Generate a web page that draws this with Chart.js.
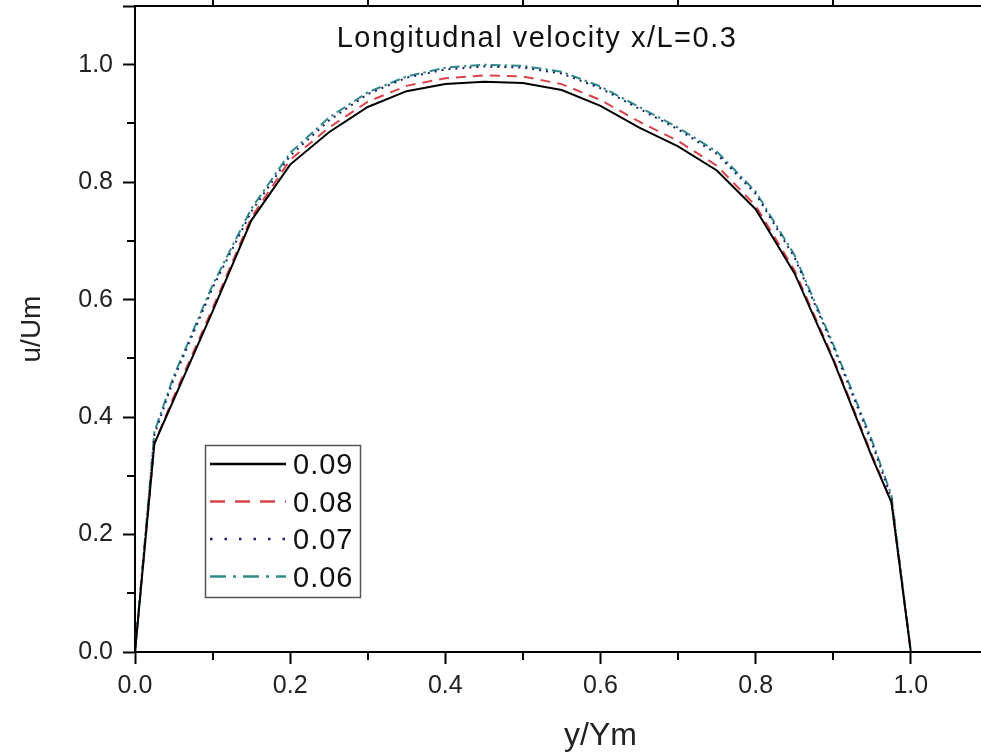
<!DOCTYPE html>
<html>
<head>
<meta charset="utf-8">
<script src="https://cdn.jsdelivr.net/npm/chart.js@4.4.0/dist/chart.umd.min.js"></script>
<style>
html,body{margin:0;padding:0;background:#fff;overflow:hidden;width:981px;height:755px}
canvas{display:block}
</style>
</head>
<body>
<canvas id="c" width="1086" height="755"></canvas>
<script>
// ---- data ----
const xValues = [0, 0.025, 0.05, 0.1, 0.15, 0.2, 0.25, 0.3, 0.35, 0.4, 0.45, 0.5, 0.55, 0.6, 0.65, 0.7, 0.75, 0.8, 0.85, 0.9, 0.95, 0.975, 1.0];
const u009 = [0, 0.355, 0.43, 0.58, 0.735, 0.83, 0.885, 0.928, 0.955, 0.967, 0.971, 0.969, 0.957, 0.93, 0.893, 0.861, 0.82, 0.754, 0.645, 0.497, 0.332, 0.255, 0];
const u008 = [0, 0.355, 0.435, 0.585, 0.74, 0.838, 0.893, 0.937, 0.964, 0.977, 0.982, 0.98, 0.967, 0.94, 0.903, 0.87, 0.828, 0.76, 0.65, 0.5, 0.335, 0.255, 0];
const u007 = [0, 0.37, 0.465, 0.62, 0.75, 0.845, 0.905, 0.95, 0.978, 0.992, 0.997, 0.995, 0.985, 0.96, 0.925, 0.89, 0.848, 0.78, 0.672, 0.52, 0.355, 0.262, 0];
const u006 = [0, 0.375, 0.47, 0.625, 0.755, 0.85, 0.91, 0.953, 0.98, 0.995, 1.0, 0.998, 0.988, 0.963, 0.928, 0.893, 0.852, 0.784, 0.676, 0.524, 0.36, 0.267, 0];
const seriesLabels = ['0.09', '0.08', '0.07', '0.06'];
const chartTitle = 'Longitudnal velocity x/L=0.3';
const xTitle = 'y/Ym';
const yTitle = 'u/Um';
const xMinorTicks = [0.1, 0.3, 0.5, 0.7, 0.9, 1.1];
const yMinorTicks = [0.1, 0.3, 0.5, 0.7, 0.9];

const FONT = '"Liberation Sans", Arial, Helvetica, sans-serif';
const toPts = ys => xValues.map((x, i) => ({x: x, y: ys[i]}));

const styles = [
  {color: '#000000', dash: [], legendDash: []},
  {color: '#d9444a', dash: [10, 7], legendDash: [15, 10]},
  {color: '#1c1f6b', dash: [2, 5], legendDash: [2.5, 12]},
  {color: '#2f8c8a', dash: [10, 4, 2.5, 4], legendDash: [16, 7, 3, 7]}
];
const seriesData = [u009, u008, u007, u006];

const datasets = seriesData.map((d, i) => ({
  label: seriesLabels[i],
  data: toPts(d),
  borderColor: styles[i].color,
  backgroundColor: styles[i].color,
  borderDash: styles[i].dash,
  borderWidth: 2,
  pointRadius: 0,
  tension: 0,
  fill: false
}));

const isMajor = v => Math.abs(v / 0.2 - Math.round(v / 0.2)) < 1e-6;

const extras = {
  id: 'extras',
  afterDraw(chart) {
    const {ctx, chartArea: a, scales: {x, y}} = chart;
    ctx.save();
    ctx.strokeStyle = '#000';
    ctx.lineWidth = 2;
    // top frame line
    ctx.beginPath();
    ctx.moveTo(a.left - 1, a.top);
    ctx.lineTo(a.right, a.top);
    ctx.stroke();
    // minor ticks
    xMinorTicks.forEach(v => {
      const px = Math.round(x.getPixelForValue(v));
      ctx.beginPath(); ctx.moveTo(px, a.bottom); ctx.lineTo(px, a.bottom + 8); ctx.stroke();
      ctx.beginPath(); ctx.moveTo(px, a.top); ctx.lineTo(px, a.top - 10); ctx.stroke();
    });
    yMinorTicks.forEach(v => {
      const py = Math.round(y.getPixelForValue(v));
      ctx.beginPath(); ctx.moveTo(a.left, py); ctx.lineTo(a.left - 8, py); ctx.stroke();
    });
    // in-plot title
    ctx.fillStyle = '#111';
    ctx.font = '29px ' + FONT;
    try { ctx.letterSpacing = '1.5px'; } catch (e) {}
    ctx.textAlign = 'center';
    ctx.textBaseline = 'alphabetic';
    ctx.fillText(chartTitle, 537, 47);
    // legend
    const bx = 205, by = 445, bw = 155, bh = 152;
    try { ctx.letterSpacing = '1px'; } catch (e) {}
    ctx.lineWidth = 1.5;
    ctx.strokeStyle = '#555';
    ctx.strokeRect(bx + 0.5, by + 0.5, bw, bh);
    chart.data.datasets.forEach((ds, i) => {
      const ry = 464 + i * 37.5;
      ctx.save();
      ctx.strokeStyle = ds.borderColor;
      ctx.lineWidth = 2.5;
      ctx.setLineDash(styles[i].legendDash);
      ctx.beginPath(); ctx.moveTo(210, ry); ctx.lineTo(286, ry); ctx.stroke();
      ctx.restore();
      ctx.fillStyle = '#111';
      ctx.font = '29px ' + FONT;
      ctx.textAlign = 'left';
      ctx.fillText(ds.label, 293, ry + 10);
    });
    ctx.restore();
  }
};

new Chart(document.getElementById('c'), {
  type: 'line',
  data: {datasets: datasets},
  options: {
    responsive: false,
    animation: false,
    devicePixelRatio: 1,
    layout: {padding: {top: 6, right: 20, left: 0, bottom: 0}},
    plugins: {legend: {display: false}, tooltip: {enabled: false}, title: {display: false}},
    scales: {
      x: {
        type: 'linear', min: 0, max: 1.2,
        afterFit(s) { s.height = 103; s.paddingLeft = 0; s.paddingRight = 0; s.paddingTop = 0; s.paddingBottom = 0; },
        border: {display: true, color: '#000', width: 2},
        grid: {display: true, drawOnChartArea: false, drawTicks: true, tickLength: 12, tickWidth: 2, tickColor: '#000'},
        ticks: {
          stepSize: 0.2, padding: 7, color: '#222', maxRotation: 0, autoSkip: false,
          font: {family: FONT, size: 25},
          callback: v => (v > 1.05 ? '' : Number(v).toFixed(1))
        },
        title: {display: true, text: xTitle, color: '#222', font: {family: FONT, size: 32}, padding: {top: 0, bottom: 0}}
      },
      y: {
        type: 'linear', min: 0, max: 1.1,
        afterFit(s) { s.width = 135; s.paddingLeft = 0; s.paddingRight = 0; s.paddingTop = 0; s.paddingBottom = 0; },
        border: {display: true, color: '#000', width: 2},
        grid: {display: true, drawOnChartArea: false, drawTicks: true, tickLength: 12, tickWidth: 2, tickColor: '#000'},
        ticks: {
          stepSize: 0.2, padding: 10, color: '#222', autoSkip: false,
          font: {family: FONT, size: 25},
          callback: v => (isMajor(v) ? Number(v).toFixed(1) : '')
        },
        title: {display: true, text: yTitle, color: '#222', font: {family: FONT, size: 28}, padding: {top: 15, bottom: 0}}
      }
    }
  },
  plugins: [extras]
});
</script>
</body>
</html>
